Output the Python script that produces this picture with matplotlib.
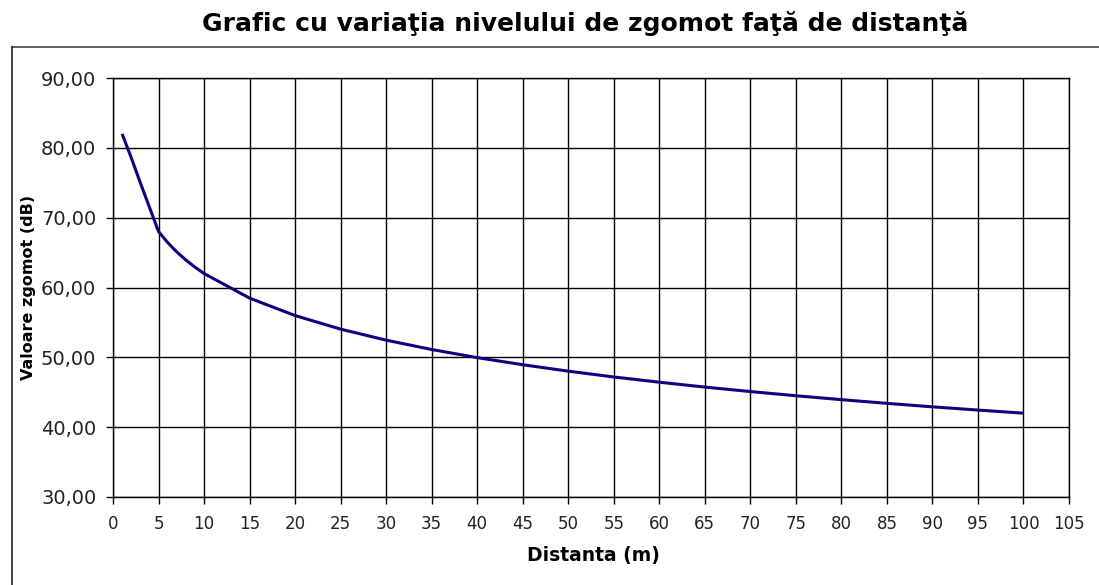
import matplotlib.pyplot as plt
from matplotlib.lines import Line2D

# distance (m) and noise level (dB)
distanta = [1, 2, 3, 4, 5, 6, 7, 8, 9, 10, 15, 20, 25, 30, 35, 40, 45, 50,
            55, 60, 65, 70, 75, 80, 85, 90, 95, 100]
zgomot = [82.00, 78.6, 75.0, 71.5, 68.02, 66.44, 65.10, 63.94, 62.92, 62.00,
          58.48, 55.98, 54.04, 52.46, 51.12, 49.96, 48.94, 48.02, 47.19, 46.44,
          45.74, 45.10, 44.50, 43.94, 43.41, 42.91, 42.45, 42.00]

x_ticks = list(range(0, 110, 5))
y_ticks = [30, 40, 50, 60, 70, 80, 90]

W, H = 1099, 585
fig = plt.figure(figsize=(W / 100, H / 100), dpi=100)
plt.rcParams['font.family'] = ['DejaVu Sans']

# outer chart frame (top and left only visible)
fig.add_artist(Line2D([12 / W, 1.0], [1 - 47 / H, 1 - 47 / H], color='#555555', lw=1.3))
fig.add_artist(Line2D([12 / W, 12 / W], [1 - 47 / H, 0.0], color='#333333', lw=1.3))

ax = fig.add_axes([113 / W, 1 - 497 / H, (1069 - 113) / W, (497 - 78) / H])
ax.plot(distanta, zgomot, color='#14007f', lw=2.2, solid_capstyle='butt')

ax.set_xlim(0, 105)
ax.set_ylim(30, 90)
ax.set_xticks(x_ticks)
ax.set_yticks(y_ticks)
ax.set_yticklabels([f"{v:.2f}".replace('.', ',') for v in y_ticks])
ax.grid(True, color='black', lw=1)
ax.set_axisbelow(True)
for s in ax.spines.values():
    s.set_color('black')
    s.set_linewidth(1)

ax.tick_params(axis='y', direction='out', length=5, width=1, pad=7,
               labelsize=14, labelcolor='#222222')
ax.tick_params(axis='x', direction='out', length=5, width=1, pad=8,
               labelsize=12, labelcolor='#222222')

ax.set_ylabel("Valoare zgomot (dB)", fontsize=11.5, fontweight='bold')
ax.yaxis.set_label_coords(-0.081, 0.5)

fig.text(593 / W, 1 - 555 / H, "Distanta (m)", ha='center', va='center',
         fontsize=13.5, fontweight='bold')
fig.text(585 / W, 1 - 23 / H, "Grafic cu variaţia nivelului de zgomot faţă de distanţă",
         ha='center', va='center', fontsize=18, fontweight='bold')

fig.savefig('out.png', dpi=100)
